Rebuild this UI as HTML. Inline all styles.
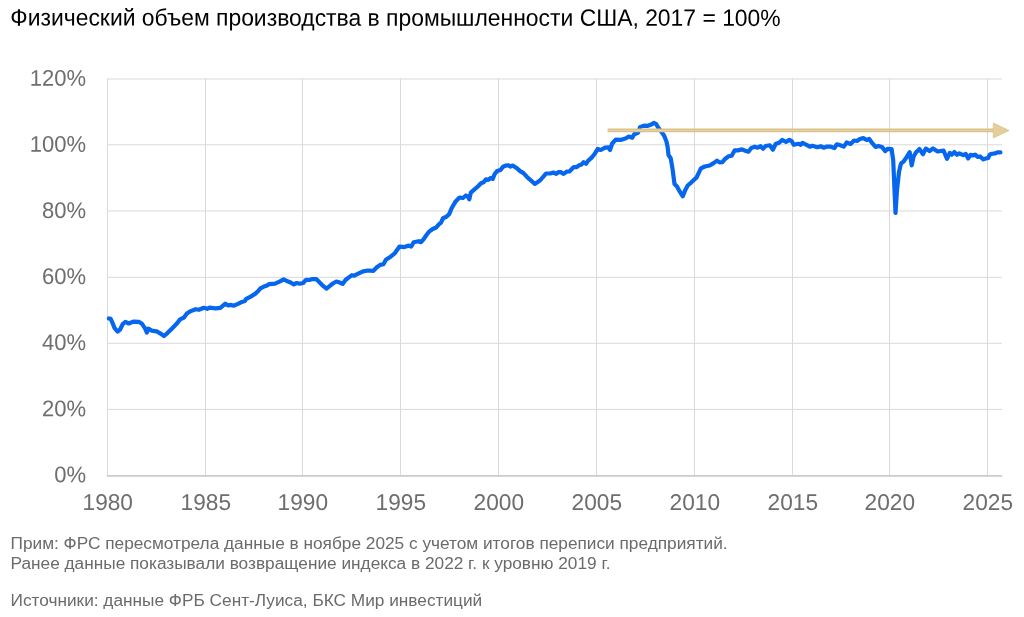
<!DOCTYPE html>
<html lang="ru"><head><meta charset="utf-8"><title>Физический объем производства в промышленности США</title>
<style>
html,body{margin:0;padding:0;background:#fff;}
body{width:1024px;height:617px;position:relative;overflow:hidden;font-family:"Liberation Sans",Arial,sans-serif;}
svg{position:absolute;left:0;top:0;}
.g{stroke:#d9d9d9;stroke-width:1;}
.ax{stroke:#cbcbcb;stroke-width:1.8;}
.t{font-family:"Liberation Sans",Arial,sans-serif;font-size:22.0px;fill:#6e6e6e;}
.ln{fill:none;stroke:#0667ee;stroke-width:4.2;stroke-linejoin:round;stroke-linecap:round;}
.ar{stroke:#d9c38b;stroke-width:3.7;}
.ar2{stroke:#e8d1a6;stroke-width:1.1;}
.ti{font-family:"Liberation Sans",Arial,sans-serif;font-size:22.9px;fill:#000;}
.n{font-family:"Liberation Sans",Arial,sans-serif;font-size:17.25px;fill:#6b6b6b;}
</style></head><body>
<svg width="1024" height="617" viewBox="0 0 1024 617">
<text transform="translate(10.3,25.5) rotate(0.03) scale(1,1.03)" class="ti">Физический объем производства в промышленности США, 2017 = 100%</text>
<line x1="107.45" y1="78.5" x2="107.45" y2="475.5" class="g"/>
<line x1="205.50" y1="78.5" x2="205.50" y2="475.5" class="g"/>
<line x1="302.50" y1="78.5" x2="302.50" y2="475.5" class="g"/>
<line x1="400.50" y1="78.5" x2="400.50" y2="475.5" class="g"/>
<line x1="498.50" y1="78.5" x2="498.50" y2="475.5" class="g"/>
<line x1="596.50" y1="78.5" x2="596.50" y2="475.5" class="g"/>
<line x1="694.50" y1="78.5" x2="694.50" y2="475.5" class="g"/>
<line x1="792.50" y1="78.5" x2="792.50" y2="475.5" class="g"/>
<line x1="889.50" y1="78.5" x2="889.50" y2="475.5" class="g"/>
<line x1="987.50" y1="78.5" x2="987.50" y2="475.5" class="g"/>
<line x1="107" y1="409.40" x2="1002.0" y2="409.40" class="g"/>
<line x1="107" y1="343.30" x2="1002.0" y2="343.30" class="g"/>
<line x1="107" y1="277.30" x2="1002.0" y2="277.30" class="g"/>
<line x1="107" y1="211.00" x2="1002.0" y2="211.00" class="g"/>
<line x1="107" y1="144.80" x2="1002.0" y2="144.80" class="g"/>
<line x1="107" y1="79.00" x2="1002.0" y2="79.00" class="g"/>
<line x1="106.9" y1="475.9" x2="1002.0" y2="475.9" class="ax"/>
<text transform="translate(86.0,482.30) rotate(0.03) scale(1,1.03)" text-anchor="end" class="t">0%</text>
<text transform="translate(86.0,416.20) rotate(0.03) scale(1,1.03)" text-anchor="end" class="t">20%</text>
<text transform="translate(86.0,350.10) rotate(0.03) scale(1,1.03)" text-anchor="end" class="t">40%</text>
<text transform="translate(86.0,284.10) rotate(0.03) scale(1,1.03)" text-anchor="end" class="t">60%</text>
<text transform="translate(86.0,217.90) rotate(0.03) scale(1,1.03)" text-anchor="end" class="t">80%</text>
<text transform="translate(86.0,151.80) rotate(0.03) scale(1,1.03)" text-anchor="end" class="t">100%</text>
<text transform="translate(86.0,85.80) rotate(0.03) scale(1,1.03)" text-anchor="end" class="t">120%</text>
<text transform="translate(107.75,509.9) rotate(0.03) scale(1.03,1.035)" text-anchor="middle" class="t">1980</text>
<text transform="translate(205.80,509.9) rotate(0.03) scale(1.03,1.035)" text-anchor="middle" class="t">1985</text>
<text transform="translate(302.80,509.9) rotate(0.03) scale(1.03,1.035)" text-anchor="middle" class="t">1990</text>
<text transform="translate(400.80,509.9) rotate(0.03) scale(1.03,1.035)" text-anchor="middle" class="t">1995</text>
<text transform="translate(498.80,509.9) rotate(0.03) scale(1.03,1.035)" text-anchor="middle" class="t">2000</text>
<text transform="translate(596.80,509.9) rotate(0.03) scale(1.03,1.035)" text-anchor="middle" class="t">2005</text>
<text transform="translate(694.80,509.9) rotate(0.03) scale(1.03,1.035)" text-anchor="middle" class="t">2010</text>
<text transform="translate(792.80,509.9) rotate(0.03) scale(1.03,1.035)" text-anchor="middle" class="t">2015</text>
<text transform="translate(889.80,509.9) rotate(0.03) scale(1.03,1.035)" text-anchor="middle" class="t">2020</text>
<text transform="translate(987.80,509.9) rotate(0.03) scale(1.03,1.035)" text-anchor="middle" class="t">2025</text>
<path d="M108.9,318.5 L110.7,318.9 L112.7,323.3 L114.6,328.2 L117.6,331.6 L120,329.7 L122.9,323.8 L125.4,321.9 L128.8,323.5 L133.2,321.6 L139.1,321.9 L142,323.8 L144.9,328.2 L146.9,332.6 L148.3,328.7 L151.8,330.6 L156.6,331.3 L160.5,333.6 L164,336 L167.4,333.1 L172.3,328.2 L177.1,323.3 L180.1,319.4 L184,317.5 L186.9,313.6 L190.8,311.1 L195.7,309.2 L198.9,309.8 L203.8,307.8 L207.2,308.8 L209.6,307.6 L215.5,308.3 L220.4,307.8 L225.3,303.7 L228.2,305.4 L231.1,304.9 L233.6,305.7 L238,303.9 L241.9,301.9 L244.8,301 L246.3,298.8 L250.7,296.6 L255.5,293.6 L258.5,290.7 L260.4,288.3 L263.4,286.8 L266.3,285.8 L269.2,284.2 L275.1,283.6 L280,281.4 L283.7,279.3 L286.8,281 L290.7,282.4 L293.8,284.4 L296.7,283 L299.6,283.75 L303.1,283 L306,279.8 L309.4,280 L312.3,279.1 L316.25,279.1 L319.2,282 L323.1,285.9 L326.5,288.6 L329.9,285.9 L332.85,283.5 L336.3,281.5 L339.7,282.5 L342.6,283.9 L345.5,280 L348.5,277.6 L351.9,275.2 L354.3,275.6 L358.2,273.7 L363.1,271.4 L368,270.5 L373.4,270.8 L376.8,267.3 L380.2,264.9 L383.4,264.2 L385.9,259.8 L389.8,257.3 L394.6,253.4 L399.5,246.6 L404.4,247.1 L408.8,245.6 L411.25,246.6 L413.7,242.2 L418.6,241.2 L421,242.2 L423.9,238.8 L426.9,234.4 L428.8,231.9 L432.7,229 L436.2,227.5 L438.6,224.6 L441,222.6 L443,218.25 L446.4,216.8 L449.3,213.9 L451.5,208.5 L455.6,201.4 L459.5,197.5 L462.95,198 L465.9,195.5 L467.8,196.5 L469.3,199.4 L470.8,192.6 L474.2,189.7 L478.1,186.25 L481,183.3 L483.5,182.3 L485.9,179.4 L488.3,179.9 L490.8,177.9 L492.7,178.9 L494.7,174 L497.1,171.1 L500.5,170.1 L503,166.7 L505.4,165.7 L508.4,165.25 L510.3,166.7 L512.75,165.5 L516.2,167.7 L520.1,171.1 L523.5,173.1 L527.9,177.9 L531.8,181.2 L534.8,183.9 L539.6,180.8 L543.6,176.4 L546,173.5 L550.4,173.5 L553.3,172.5 L556.25,173.9 L558.7,172 L560.6,172.2 L563.6,173.9 L567,171.5 L569.4,171.5 L573.8,167.1 L576.75,167.1 L579.2,165.2 L581.6,164.4 L583.6,162.2 L586,163.7 L588.5,160.3 L591.4,157.8 L594.3,154.4 L597.75,149 L600.7,150 L605.1,147.6 L608.5,147.4 L610,150 L612.2,143.5 L615.7,139.6 L620.5,139.9 L625.4,138.5 L628.8,136.6 L632.2,137.8 L634.2,134.2 L638.1,132.7 L640,127.1 L643.9,125.6 L647.85,125.8 L651.3,124.45 L653.7,122.9 L656.15,124.2 L658.6,128.1 L661.5,132 L664,135.4 L666.4,141.25 L667.7,147.5 L668.5,155 L670.7,158.2 L672.4,168 L674.5,184 L677,186.5 L679.4,190.9 L682.8,196.3 L685.3,189.9 L687.7,185.5 L691.1,182.6 L694.1,179.7 L696.5,177.7 L698.5,173.3 L700.9,168.4 L704.8,166.5 L709.7,165.5 L713.6,163.1 L717,160.6 L719.5,162.4 L722.4,162.1 L725.3,158.7 L728.7,156.2 L731.7,155.7 L734.6,150.4 L738,150.4 L741.9,149.4 L745.3,150.8 L748.4,151.7 L751.3,147.9 L754.8,146.7 L757.7,147.7 L760.6,146.25 L763.1,148.7 L765.5,146.05 L769.9,145.3 L772.8,149.7 L775.8,143.8 L779.2,142.8 L782.1,139.9 L786,141.85 L789.4,139.9 L791.9,141.4 L793.8,144.8 L798.2,143.8 L800.7,144.8 L802.6,142.8 L806.5,144.8 L809.9,146.7 L812.4,145.8 L817.3,147.2 L820.7,146.25 L823.6,147.7 L826.5,146.7 L830.9,146.7 L834.4,148 L836.9,144.3 L840.4,145.2 L843.8,146.6 L846.7,142.5 L850.6,143.9 L854,140.5 L857,141 L859.9,139 L863.3,138.1 L866.7,140 L869.2,139 L872.1,142.9 L875.5,146.9 L878.5,145.9 L881.9,146.9 L885.3,151.1 L887.7,148.8 L891.6,149.1 L893.2,160 L895.5,213 L897,190 L899,172 L900.6,165 L901.4,163 L903.4,161.8 L906.3,157.6 L909.7,152.2 L911.7,165.4 L913.6,156.6 L916.05,152.2 L919.5,149.1 L922.9,154.2 L925.8,148.6 L929.5,151.1 L933,148.4 L937.7,151.5 L943.5,150.5 L946.95,158.8 L949.8,152.9 L951.9,154.7 L954.3,152.1 L957.0,154.8 L959.4,153.4 L963.2,155.1 L965.8,154.0 L968.2,158.4 L970.5,154.9 L973.1,155.5 L975.2,154.6 L977.8,157.0 L979.9,156.4 L983.4,159.4 L985.7,158.5 L988.1,158.0 L989.8,154.6 L992.2,153.75 L995.1,153.45 L997.45,152.3 L1000.4,152.4" class="ln"/>
<line x1="607.6" y1="130.45" x2="994" y2="130.45" class="ar"/>
<line x1="608.2" y1="130.45" x2="994" y2="130.45" class="ar2"/>
<polygon points="993.3,123.0 1009.0,130.45 993.3,137.9" fill="#e5cd9c" stroke="#d9c38b" stroke-width="0.8" stroke-linejoin="miter"/>
<text x="10.5" y="549.3" class="n">Прим: ФРС пересмотрела данные в ноябре 2025 с учетом итогов переписи предприятий.</text>
<text x="10.5" y="568.8" class="n">Ранее данные показывали возвращение индекса в 2022 г. к уровню 2019 г.</text>
<text x="10.5" y="605.9" class="n">Источники: данные ФРБ Сент-Луиса, БКС Мир инвестиций</text>
</svg>
</body></html>
